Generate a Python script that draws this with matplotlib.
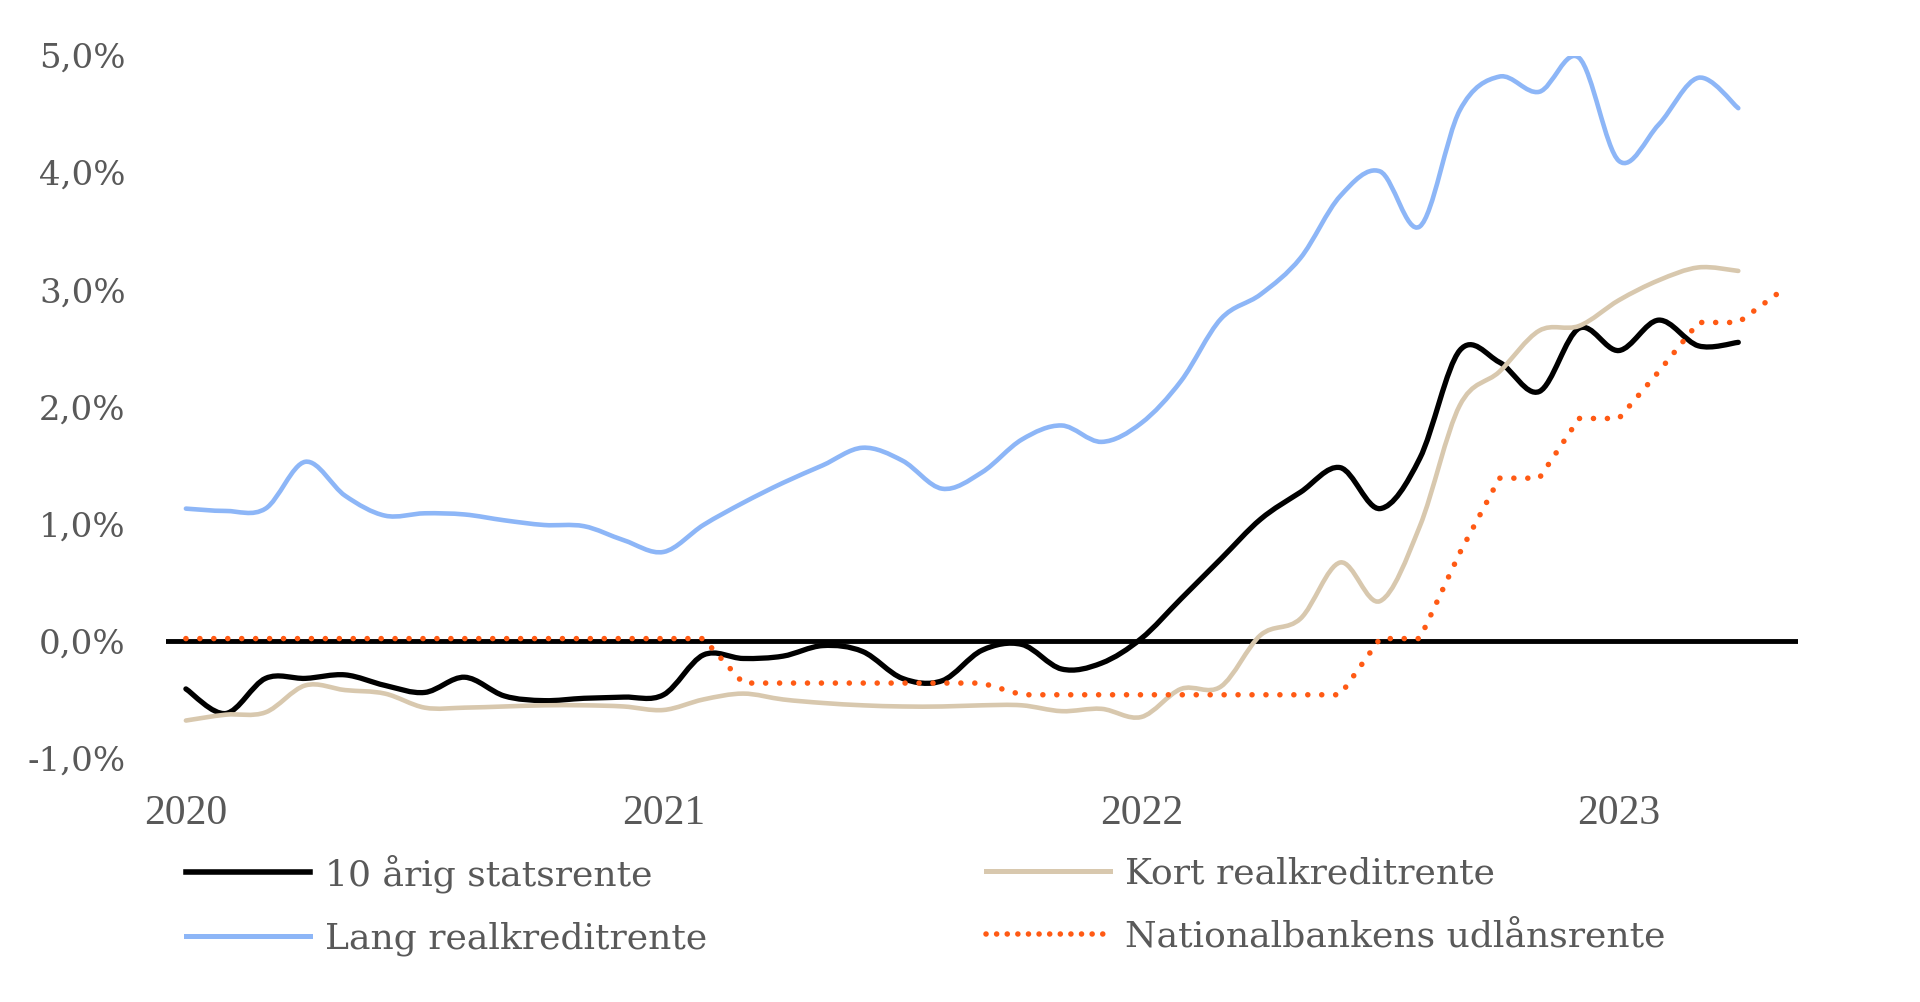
import matplotlib
matplotlib.use("Agg")
import matplotlib.pyplot as plt
from matplotlib.path import Path
from matplotlib.patches import PathPatch
from matplotlib.lines import Line2D
import numpy as np

# ---------------- data (monthly, Jan 2020 = 0) ----------------
months_main = list(range(40))          # Jan 2020 .. Apr 2023
months_nb = list(range(41))            # Jan 2020 .. May 2023
tick_positions = [0, 12, 24, 36]
tick_labels = ["2020", "2021", "2022", "2023"]
y_ticks = [-1, 0, 1, 2, 3, 4, 5]

statsrente = [-0.41, -0.62, -0.32, -0.32, -0.29, -0.38, -0.44, -0.31, -0.47, -0.51,
              -0.49, -0.48, -0.46, -0.12, -0.15, -0.13, -0.04, -0.09, -0.32, -0.34,
              -0.08, -0.03, -0.24, -0.19, 0.02, 0.36, 0.70, 1.04, 1.27, 1.48,
              1.13, 1.56, 2.48, 2.38, 2.13, 2.67, 2.48, 2.74, 2.52, 2.55]

kort = [-0.68, -0.63, -0.61, -0.38, -0.42, -0.45, -0.57, -0.57, -0.56, -0.55,
        -0.55, -0.56, -0.59, -0.50, -0.45, -0.50, -0.53, -0.55, -0.56, -0.56,
        -0.55, -0.55, -0.60, -0.58, -0.65, -0.41, -0.39, 0.05, 0.19, 0.67,
        0.34, 0.98, 2.01, 2.30, 2.65, 2.69, 2.91, 3.08, 3.19, 3.16]

lang = [1.13, 1.11, 1.13, 1.53, 1.24, 1.07, 1.09, 1.08, 1.03, 0.99,
        0.98, 0.86, 0.76, 0.99, 1.18, 1.35, 1.50, 1.65, 1.54, 1.30,
        1.44, 1.72, 1.84, 1.70, 1.86, 2.22, 2.75, 2.96, 3.27, 3.80,
        4.01, 3.54, 4.53, 4.82, 4.69, 4.98, 4.10, 4.41, 4.81, 4.55]

nationalbank = [0.02, 0.02, 0.02, 0.02, 0.02, 0.02, 0.02, 0.02, 0.02, 0.02,
                0.02, 0.02, 0.02, 0.02, -0.36, -0.36, -0.36, -0.36, -0.36, -0.36,
                -0.36, -0.46, -0.46, -0.46, -0.46, -0.46, -0.46, -0.46, -0.46, -0.46,
                0.02, 0.02, 0.75, 1.39, 1.39, 1.90, 1.90, 2.30, 2.72, 2.72, 2.97]

labels = ["10 årig statsrente", "Kort realkreditrente",
          "Lang realkreditrente", "Nationalbankens udlånsrente"]

BLACK = "#000000"
BEIGE = "#D8C8AE"
BLUE = "#8DB6F7"
ORANGE = "#FF5A14"
GREY = "#595959"

plt.rcParams["font.family"] = ["DejaVu Serif"]


def smooth_path(x, y):
    """Excel-style smoothed line: cubic Bezier through every data point."""
    pts = np.column_stack([np.asarray(x, float), np.asarray(y, float)])
    n = len(pts)
    verts = [pts[0]]
    codes = [Path.MOVETO]
    for i in range(n - 1):
        p0 = pts[i - 1] if i > 0 else pts[i]
        p1 = pts[i]
        p2 = pts[i + 1]
        p3 = pts[i + 2] if i + 2 < n else pts[i + 1]
        verts += [p1 + (p2 - p0) / 6.0, p2 - (p3 - p1) / 6.0, p2]
        codes += [Path.CURVE4] * 3
    return Path(verts, codes)


fig = plt.figure(figsize=(19.2, 10.02), dpi=100)
ax = fig.add_axes([166 / 1920, 1 - 758 / 1002, (1798 - 166) / 1920, (758 - 55.5) / 1002])

ax.set_xlim(-0.5, 40.5)
ax.set_ylim(-1, 5)

# category axis line at 0
ax.axhline(0, color=BLACK, lw=3.5, zorder=1)

series = [(months_main, statsrente, BLACK, 3.8, 2),
          (months_main, kort, BEIGE, 3.3, 3),
          (months_main, lang, BLUE, 3.3, 4)]
for xs, ys, col, lw, z in series:
    ax.add_patch(PathPatch(smooth_path(xs, ys), fill=False, edgecolor=col, lw=lw,
                           capstyle="round", joinstyle="round", zorder=z))

ax.plot(months_nb, nationalbank, color=ORANGE, lw=4.0,
        linestyle=(0, (0.01, 2.5)), dash_capstyle="round", zorder=5)

for s in ax.spines.values():
    s.set_visible(False)

ax.set_yticks(y_ticks)
ax.set_yticklabels([f"{v:.1f}%".replace(".", ",") for v in y_ticks])
ax.set_xticks(tick_positions)
ax.set_xticklabels(tick_labels)
ax.tick_params(axis="y", length=0, pad=29, labelsize=24.5, labelcolor=GREY)
ax.tick_params(axis="x", length=0, pad=26, labelsize=27, labelcolor=GREY)
for t in ax.get_xticklabels():
    t.set_fontfamily(["Liberation Serif"])
    t.set_fontsize(30)

h_black = Line2D([], [], color=BLACK, lw=4.0)
h_beige = Line2D([], [], color=BEIGE, lw=3.6)
h_blue = Line2D([], [], color=BLUE, lw=3.6)
h_orange = Line2D([], [], color=ORANGE, lw=4.0, linestyle=(0, (0.01, 1.9)),
                  dash_capstyle="round")

common = dict(loc="center left", frameon=False, handlelength=3.43,
              handletextpad=0.42, labelspacing=0.80, borderpad=0,
              borderaxespad=0, labelcolor=GREY,
              prop={"family": "DejaVu Serif", "size": 26})
leg1 = fig.legend([h_black, h_blue], [labels[0], labels[2]],
                  bbox_to_anchor=(186 / 1920, 1 - 905 / 1002), **common)
leg2 = fig.legend([h_beige, h_orange], [labels[1], labels[3]],
                  bbox_to_anchor=(986 / 1920, 1 - 905 / 1002), **common)

fig.savefig("out.png", dpi=100, facecolor="white")
